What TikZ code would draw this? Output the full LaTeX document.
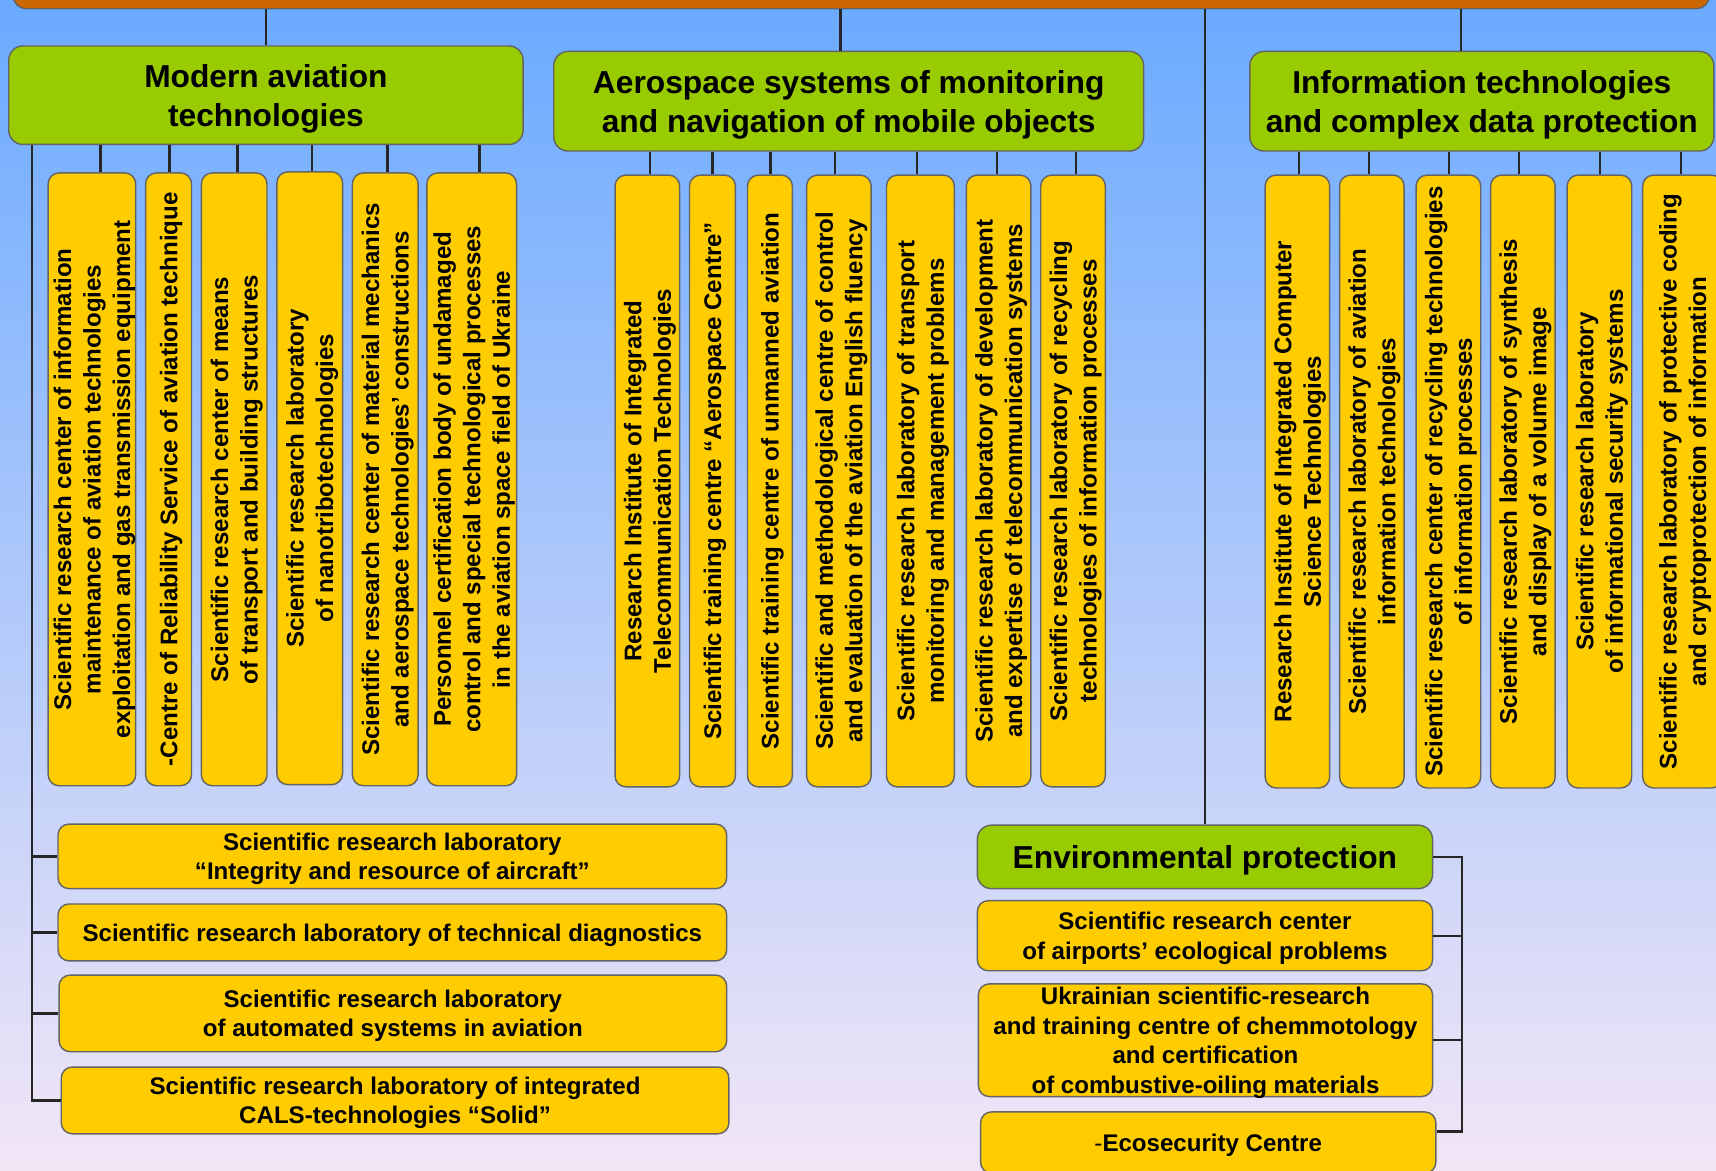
\documentclass[tikz,border=0pt]{standalone}
\usepackage{fontspec}
\setmainfont{Liberation Sans}
\usetikzlibrary{calc}
\definecolor{grn}{HTML}{99CC00}
\definecolor{yel}{HTML}{FFCC00}
\definecolor{org}{HTML}{CC6600}
\definecolor{bord}{HTML}{646464}
\definecolor{lin}{HTML}{262626}
\definecolor{bgtop}{RGB}{106,170,255}
\definecolor{bgmid}{RGB}{176,205,242}
\definecolor{bgbot}{RGB}{242,230,246}
\begin{document}
\begin{tikzpicture}[x=1pt,y=-1pt,
 box/.style={draw=bord, line width=1.3pt, rounded corners=10pt, inner sep=0pt, align=center, text depth=-1.5pt, font=\bfseries\fontsize{22}{27}\selectfont},
 ybox/.style={box, fill=yel},
 vbox/.style={ybox, rotate=90},
 gbox/.style={box, fill=grn, rounded corners=13pt, text depth=-2pt, font=\bfseries\fontsize{29}{36}\selectfont},
 topbar/.style={draw=bord, line width=1.3pt, fill=org, rounded corners=12pt},
 conn/.style={draw=lin, line width=2.2pt}]
\useasboundingbox (0,0) rectangle (1568,1070);
\clip (0,0) rectangle (1568,1070);
\fill[top color=bgtop, middle color=bgmid, bottom color=bgbot] (0,0) rectangle (1568,1070);

% top bar
\node[topbar, minimum width=1550, minimum height=48] (top) at (787,-16) {};

% headers
\node[gbox, minimum width=470, minimum height=90] (m1) at (243,87) {Modern aviation\\technologies};
\node[gbox, minimum width=539, minimum height=91] (m2) at (775.5,92.5) {Aerospace systems of monitoring\\and navigation of mobile objects};
\node[gbox, minimum width=424, minimum height=91] (m3) at (1354,92.5) {Information technologies\\and complex data protection};
\node[gbox, minimum width=416, minimum height=58] (E) at (1101,783) {Environmental protection};

% group 1 vertical boxes
\node[vbox, minimum width=560, minimum height=80] (b1) at (84,438) {Scientific research center of information\\maintenance of aviation technologies\\exploitation and gas transmission equipment};
\node[vbox, minimum width=560, minimum height=42] (b2) at (154,438) {-Centre of Reliability Service of aviation technique};
\node[vbox, minimum width=560, minimum height=60] (b3) at (214,438) {Scientific research center of means\\of transport and building structures};
\node[vbox, minimum width=560, minimum height=60] (b4) at (283,437) {Scientific research laboratory\\of nanotribotechnologies};
\node[vbox, minimum width=560, minimum height=60] (b5) at (352,438) {Scientific research center of material mechanics\\and aerospace technologies’ constructions};
\node[vbox, minimum width=560, minimum height=82] (b6) at (431,438) {Personnel certification body of undamaged\\control and special technological processes\\in the aviation space field of Ukraine};

% group 2 vertical boxes
\node[vbox, minimum width=559, minimum height=59] (a1) at (591.5,439.5) {Research Institute of Integrated\\Telecommunication Technologies};
\node[vbox, minimum width=559, minimum height=42] (a2) at (651,439.5) {Scientific training centre “Aerospace Centre”};
\node[vbox, minimum width=559, minimum height=41] (a3) at (703.5,439.5) {Scientific training centre of unmanned aviation};
\node[vbox, minimum width=559, minimum height=59] (a4) at (766.5,439.5) {Scientific and methodological centre of control\\and evaluation of the aviation English fluency};
\node[vbox, minimum width=559, minimum height=62] (a5) at (841,439.5) {Scientific research laboratory of transport\\monitoring and management problems};
\node[vbox, minimum width=559, minimum height=59] (a6) at (912.5,439.5) {Scientific research laboratory of development\\and expertise of telecommunication systems};
\node[vbox, minimum width=559, minimum height=59] (a7) at (980.5,439.5) {Scientific research laboratory of recycling\\technologies of information processes};

% group 3 vertical boxes
\node[vbox, minimum width=560, minimum height=59] (c1) at (1185.5,440) {Research Institute of Integrated Computer\\Science Technologies};
\node[vbox, minimum width=560, minimum height=59] (c2) at (1253.5,440) {Scientific research laboratory of aviation\\information technologies};
\node[vbox, minimum width=560, minimum height=59] (c3) at (1323.5,440) {Scientific research center of recycling technologies\\of information processes};
\node[vbox, minimum width=560, minimum height=59] (c4) at (1391.5,440) {Scientific research laboratory of synthesis\\and display of a volume image};
\node[vbox, minimum width=560, minimum height=59] (c5) at (1461.5,440) {Scientific research laboratory\\of informational security systems};
\node[vbox, minimum width=560, minimum height=73] (c6) at (1537.5,440) {Scientific research laboratory of protective coding\\and cryptoprotection of information};

% bottom left boxes
\node[ybox, minimum width=611, minimum height=59] (L1) at (358.5,782.5) {Scientific research laboratory\\“Integrity and resource of aircraft”};
\node[ybox, minimum width=611, minimum height=52] (L2) at (358.5,852) {Scientific research laboratory of technical diagnostics};
\node[ybox, minimum width=610, minimum height=70] (L3) at (359,926) {Scientific research laboratory\\of automated systems in aviation};
\node[ybox, minimum width=610, minimum height=61] (L4) at (361,1005.5) {Scientific research laboratory of integrated\\CALS-technologies “Solid”};

% environmental boxes
\node[ybox, minimum width=416, minimum height=64] (E1) at (1101,855) {Scientific research center\\of airports’ ecological problems};
\node[ybox, minimum width=415, minimum height=103] (E2) at (1101.5,950.5) {Ukrainian scientific-research\\and training centre of chemmotology\\and certification\\of combustive-oiling materials};
\node[ybox, minimum width=416, minimum height=56] (E3) at (1104,1044) {{\mdseries -}Ecosecurity Centre};

% connectors from top bar
\draw[conn] (top.south -| 243,0) -- (m1.north);
\draw[conn] (top.south -| 768,0) -- (m2.north -| 768,0);
\draw[conn] (top.south -| 1335,0) -- (m3.north -| 1335,0);
\draw[conn] (top.south -| 1101,0) -- (E.north);

% group 1 connectors
\draw[conn] (m1.south -| 92,0) -- (b1.east -| 92,0);
\draw[conn] (m1.south -| 155,0) -- (b2.east -| 155,0);
\draw[conn] (m1.south -| 217,0) -- (b3.east -| 217,0);
\draw[conn] (m1.south -| 285,0) -- (b4.east -| 285,0);
\draw[conn] (m1.south -| 354,0) -- (b5.east -| 354,0);
\draw[conn] (m1.south -| 438,0) -- (b6.east -| 438,0);

% group 2 connectors
\draw[conn] (m2.south -| 594,0) -- (a1.east -| 594,0);
\draw[conn] (m2.south -| 651,0) -- (a2.east -| 651,0);
\draw[conn] (m2.south -| 704,0) -- (a3.east -| 704,0);
\draw[conn] (m2.south -| 763,0) -- (a4.east -| 763,0);
\draw[conn] (m2.south -| 838,0) -- (a5.east -| 838,0);
\draw[conn] (m2.south -| 911,0) -- (a6.east -| 911,0);
\draw[conn] (m2.south -| 983,0) -- (a7.east -| 983,0);

% group 3 connectors
\draw[conn] (m3.south -| 1187,0) -- (c1.east -| 1187,0);
\draw[conn] (m3.south -| 1251,0) -- (c2.east -| 1251,0);
\draw[conn] (m3.south -| 1324,0) -- (c3.east -| 1324,0);
\draw[conn] (m3.south -| 1388,0) -- (c4.east -| 1388,0);
\draw[conn] (m3.south -| 1462,0) -- (c5.east -| 1462,0);
\draw[conn] (m3.south -| 1536,0) -- (c6.east -| 1536,0);

% left tree
\draw[conn] (m1.south -| 29,0) |- (L4.west);
\draw[conn] (L1.west) -- (L1.west -| 29,0);
\draw[conn] (L2.west) -- (L2.west -| 29,0);
\draw[conn] (L3.west) -- (L3.west -| 29,0);

% right bracket
\draw[conn] (E.east) -- (E.east -| 1336,0) |- ([yshift=10pt]E3.east);
\draw[conn] (E1.east) -- (E1.east -| 1336,0);
\draw[conn] (E2.east) -- (E2.east -| 1336,0);
\end{tikzpicture}
\end{document}
